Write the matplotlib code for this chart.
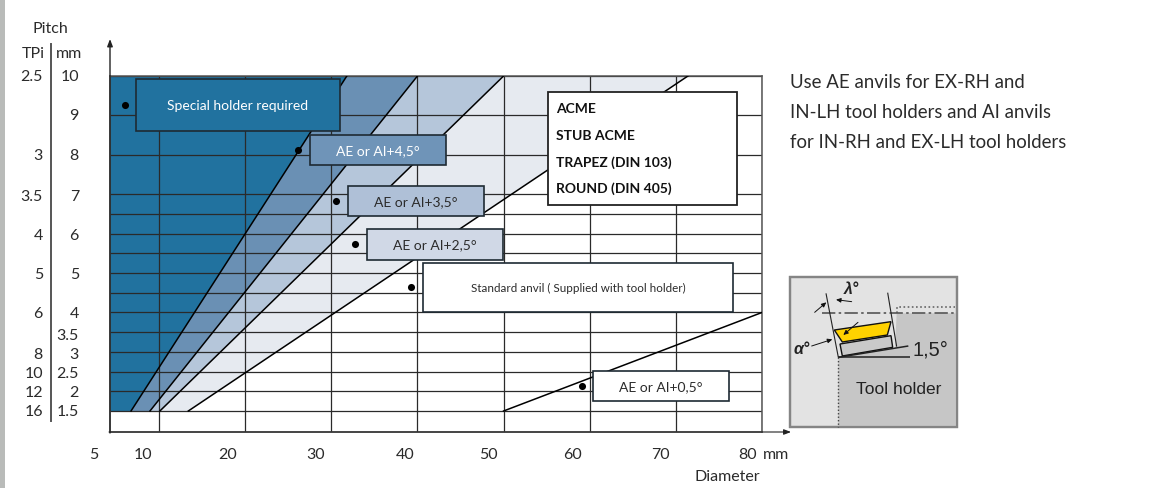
import matplotlib
matplotlib.use("Agg")
import matplotlib.pyplot as plt
import numpy as np
from matplotlib.patches import Rectangle, Polygon

plt.rcParams['font.family'] = ['Lato', 'DejaVu Sans']

# ---- data ----
diameter_grid = [10, 20, 30, 40, 50, 60, 70, 80]
pitch_grid = [1.5, 2, 2.5, 3, 3.5, 4, 4.5, 5, 5.5, 6, 6.5, 7, 8, 9, 10]
mm_labels = ['10', '9', '8', '7', '6', '5', '4', '3.5', '3', '2.5', '2', '1.5']
tpi_labels = ['2.5', '', '3', '3.5', '4', '5', '6', '', '8', '10', '12', '16']
x_labels = ['5', '10', '20', '30', '40', '50', '60', '70', '80']

# boundary lines: diameter at pitch 1.5 and at pitch 10
bound_low = [6.75, 8.95, 10.1, 13.4]
bound_high = [31.8, 40.0, 50.0, 71.4]
# +0.5 degree line
line05_d = [50, 80]
line05_p = [1.5, 4.0]

dot_d = [6.05, 26.1, 30.5, 32.7, 39.3, 59.1]
dot_p = [9.27, 8.13, 6.83, 5.74, 4.65, 2.14]

zone_colors = ['#21729f', '#6a90b4', '#b5c6da', '#e6eaf0']

fig = plt.figure(figsize=(11.62, 4.88), dpi=100, facecolor='white')
W, H = 1162, 488
x0, x1, ytop, ybot = 110, 762, 76, 432
ax = fig.add_axes([x0 / W, 1 - ybot / H, (x1 - x0) / W, (ybot - ytop) / H])
ax.set_xlim(10 - 49 / 8.61, 80)
ax.set_ylim(1.5 - 21 / 39.4, 10)
xmin = ax.get_xlim()[0]
for s in ax.spines.values():
    s.set_color('#555555')
    s.set_linewidth(1.1)
ax.set_xticks([])
ax.set_yticks([])

# zones
lefts = [xmin] + bound_low
lefts_t = [xmin] + bound_high
for i, c in enumerate(zone_colors):
    ax.add_patch(Polygon([(lefts[i], 1.5), (bound_low[i], 1.5), (bound_high[i], 10), (lefts_t[i], 10)],
                         closed=True, fc=c, ec='none', zorder=1))
# grid
ax.vlines(diameter_grid, ax.get_ylim()[0], 10, color='#2a2a2a', lw=0.9, zorder=2)
ax.hlines(pitch_grid, xmin, 80, color='#2a2a2a', lw=0.9, zorder=2)
# boundaries
for a, b in zip(bound_low, bound_high):
    ax.plot([a, b], [1.5, 10], color='black', lw=1.1, zorder=3)
ax.plot(line05_d, line05_p, color='black', lw=1.1, zorder=3)

# overlay in pixel units
ov = fig.add_axes([0, 0, 1, 1], facecolor='none')
ov.set_xlim(0, W)
ov.set_ylim(H, 0)
ov.axis('off')

ov.add_patch(Rectangle((0, 0), 5, H, fc='#b9bbb9', ec='none'))

# axis arrows
ov.annotate('', xy=(110, 39), xytext=(110, 433), arrowprops=dict(arrowstyle='-|>,head_width=0.16,head_length=0.42', color='#222', lw=1, shrinkA=0, shrinkB=0))
ov.annotate('', xy=(791, 432), xytext=(109, 432), arrowprops=dict(arrowstyle='-|>,head_width=0.16,head_length=0.42', color='#222', lw=0.8, shrinkA=0, shrinkB=0))

TXT = '#2b2b2b'
FS = 11.5
# y labels
ov.plot([51, 51], [44, 421], color='#555555', lw=1.4)
ov.text(50, 29, 'Pitch', ha='center', va='center', fontsize=FS, color=TXT)
ov.text(33, 54, 'TPi', ha='center', va='center', fontsize=FS, color=TXT)
ov.text(69, 54, 'mm', ha='center', va='center', fontsize=FS, color=TXT)
label_y = [77, 116, 156, 197, 236, 275, 314, 336, 355, 374, 393, 412]
for y, m, t in zip(label_y, mm_labels, tpi_labels):
    ov.text(79, y, m, ha='right', va='center', fontsize=FS, color=TXT)
    if t:
        ov.text(43, y, t, ha='right', va='center', fontsize=FS, color=TXT)
# x labels
label_x = [94, 143, 228, 316, 405, 488, 573, 660, 748]
for x, l in zip(label_x, x_labels):
    ov.text(x, 455, l, ha='center', va='center', fontsize=FS, color=TXT)
ov.text(776, 455, 'mm', ha='center', va='center', fontsize=FS, color=TXT)
ov.text(727, 477, 'Diameter', ha='center', va='center', fontsize=FS, color=TXT)

# boxes
boxes = [
    (136, 79, 340, 131, '#21729f', 'Special holder required', 'white', 10.0),
    (310, 135, 446, 165, '#6f94b8', 'AE or AI+4,5°', 'white', 10.0),
    (348, 186, 484, 216, '#afc0d7', 'AE or AI+3,5°', TXT, 10.0),
    (367, 229, 503, 260, '#d0d8e6', 'AE or AI+2,5°', TXT, 10.0),
    (423, 263, 733, 312, 'white', 'Standard anvil ( Supplied with tool holder)', TXT, 8.4),
    (593, 371, 729, 401, 'white', 'AE or AI+0,5°', TXT, 10.0),
]
for a, b, c, d, fc, s, tc, fs in boxes:
    ov.add_patch(Rectangle((a, b), c - a, d - b, fc=fc, ec='#1e2a33', lw=1.2, zorder=4))
    ov.text((a + c) / 2, (b + d) / 2 + 1, s, ha='center', va='center', color=tc, fontsize=fs, zorder=5)
ov.add_patch(Rectangle((548, 92), 189, 113, fc='white', ec='#222', lw=1.3, zorder=4))
for y, s in zip([109, 136, 163, 189], ['ACME', 'STUB ACME', 'TRAPEZ (DIN 103)', 'ROUND (DIN 405)']):
    ov.text(556, y, s, ha='left', va='center', fontsize=10, fontweight='bold', color='#111', zorder=5)

# dots through the chart's own scales
to_px = lambda d, p: ov.transData.inverted().transform(ax.transData.transform((d, p)))
fig.canvas.draw()
pts = np.array([to_px(d, p) for d, p in zip(dot_d, dot_p)])
ov.scatter(pts[:, 0], pts[:, 1], s=26, color='black', zorder=6, linewidths=0)

# side note
for y, s in zip([83, 112, 142], ['Use AE anvils for EX-RH and', 'IN-LH tool holders and AI anvils', 'for IN-RH and EX-LH tool holders']):
    ov.text(790, y, s, ha='left', va='center', fontsize=13.4, color='#2b2b2b')

# tool diagram (coordinates of the sketch)
Z = lambda pts: [(780 + x / 3, 270 + y / 3) for x, y in pts]
def zl(pts, **kw):
    p = Z(pts)
    ov.plot([q[0] for q in p], [q[1] for q in p], zorder=8, solid_capstyle='butt', **kw)
def zarrow(a, b):
    pa, pb = Z([a, b])
    ov.annotate('', xy=pb, xytext=pa, zorder=9,
                arrowprops=dict(arrowstyle='-|>,head_width=0.13,head_length=0.28', color='#111', lw=0.7, shrinkA=0, shrinkB=0))
ov.add_patch(Rectangle((790, 277), 167, 150, fc='#e3e3e3', ec='#858585', lw=1.6, zorder=6))
ov.add_patch(Polygon(Z([(175, 470), (175, 262), (345, 235), (350, 130), (527, 130), (527, 470)]),
                     closed=True, fc='#c6c6c6', ec='none', zorder=7))
ov.add_patch(Rectangle((790, 277), 167, 150, fc='none', ec='#858585', lw=1.6, zorder=8))
ov.add_patch(Polygon(Z([(180, 222), (333, 197), (338, 232), (187, 258)]), closed=True, fc='#c9c9c9', ec='#111', lw=1, zorder=8))
ov.add_patch(Polygon(Z([(163, 180), (333, 155), (322, 195), (187, 216)]), closed=True, fc='#ffd200', ec='#111', lw=1, zorder=8))
zl([(350, 130), (350, 110), (525, 110)], color='#666', lw=1.2, ls=(0, (1, 1.5)))
zl([(125, 130), (527, 130)], color='#555', lw=1.2, ls=(0, (8, 2, 1.5, 2)))
zl([(175, 262), (175, 470)], color='#444', lw=1.0, ls=(0, (1, 1.5)))
zl([(138, 70), (175, 262)], color='#222', lw=0.8)
zl([(323, 68), (350, 230)], color='#222', lw=0.8)
zl([(175, 262), (390, 262)], color='#222', lw=1.1)
zl([(175, 262), (385, 228)], color='#222', lw=1.1)
zarrow((104, 127), (139, 97))
zarrow((215, 95), (168, 89))
zarrow((95, 228), (157, 208))
zarrow((234, 157), (190, 195))
SANS = ['Liberation Sans', 'DejaVu Sans']
ov.text(780 + 452 / 3, 270 + 241 / 3, '1,5°', family=SANS, fontsize=14.5, ha='center', va='center', color='#222', zorder=9)
ov.text(780 + 357 / 3, 270 + 358 / 3, 'Tool holder', family=SANS, fontsize=12.5, ha='center', va='center', color='#222', zorder=9)
ov.text(780 + 65 / 3, 270 + 237 / 3, 'α°', family=SANS, fontsize=11.5, style='italic', fontweight='bold', ha='center', va='center', color='#222', zorder=9)
ov.text(780 + 215 / 3, 270 + 60 / 3, 'λ°', family=SANS, fontsize=11.5, style='italic', fontweight='bold', ha='center', va='center', color='#222', zorder=9)

fig.savefig('out.png', dpi=100, facecolor='white')
